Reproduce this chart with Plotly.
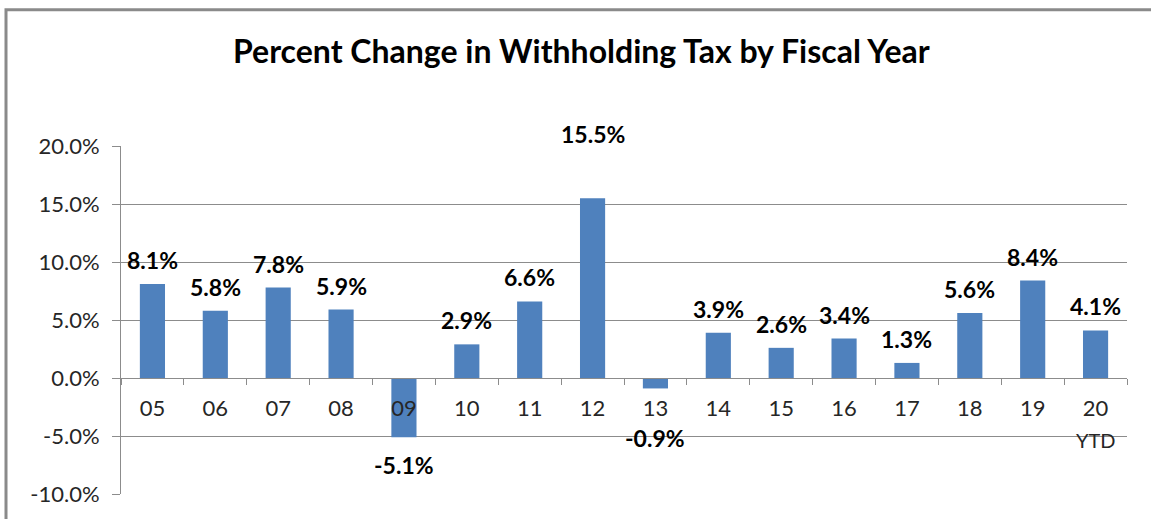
import plotly.graph_objects as go

# ---- data ----
categories = ["05", "06", "07", "08", "09", "10", "11", "12", "13", "14", "15", "16", "17", "18", "19", "20"]
pct_change = [8.1, 5.8, 7.8, 5.9, -5.1, 2.9, 6.6, 15.5, -0.9, 3.9, 2.6, 3.4, 1.3, 5.6, 8.4, 4.1]
y_ticks = [-10, -5, 0, 5, 10, 15, 20]
y_tick_labels = ["-10.0%", "-5.0%", "0.0%", "5.0%", "10.0%", "15.0%", "20.0%"]
title_text = "Percent Change in Withholding Tax by Fiscal Year"
ytd_note = "YTD"

# ---- style ----
FONT = "Lato, 'Open Sans', sans-serif"
BAR_COLOR = "#4F81BD"
GRID = "#8c8c8c"
# label pixel offsets from bar end (some labels were moved by hand in the original)
label_shift_override = {"12": 48, "13": -34, "09": -12}
pos_shift = 8

fig = go.Figure()
fig.add_trace(go.Bar(
    x=categories, y=pct_change,
    marker=dict(color=BAR_COLOR, line=dict(width=0)),
    hoverinfo="skip",
))

annotations = []
for i, (c, v) in enumerate(zip(categories, pct_change)):
    s = label_shift_override.get(c, pos_shift)
    annotations.append(dict(x=i, y=v, xref="x", yref="y", text=f"<b>{v:.1f}%</b>",
                            showarrow=False, yanchor="bottom" if v >= 0 else "top", yshift=s,
                            font=dict(family=FONT, size=23, color="#000000")))

annotations.append(dict(x=len(categories) - 1, y=0, xref="x", yref="y", text=ytd_note,
                        showarrow=False, yanchor="middle", yshift=-62,
                        font=dict(family=FONT, size=20, color="#262626")))
annotations.append(dict(x=0.5, y=1, xref="paper", yref="paper", text=f"<b>{title_text}</b>",
                        showarrow=False, yanchor="middle", yshift=96, xshift=-43,
                        font=dict(family=FONT, size=32, color="#000000")))

fig.update_layout(
    width=1151, height=519,
    margin=dict(l=121, r=24, t=146, b=23),
    paper_bgcolor="white", plot_bgcolor="white",
    showlegend=False,
    bargap=0.6,
    font=dict(family=FONT, size=22, color="#262626"),
    annotations=annotations,
    xaxis=dict(
        type="category",
        range=[-0.5, len(categories) - 0.5],
        anchor="free", position=1/3,
        showline=True, linecolor=GRID, linewidth=1,
        ticks="outside", ticklen=6, tickcolor=GRID, tickson="boundaries",
        showgrid=False, zeroline=False,
        tickfont=dict(family=FONT, size=22, color="#262626"),
        ticklabelstandoff=11,
        fixedrange=True,
    ),
    yaxis=dict(
        range=[-10, 20],
        tickvals=y_ticks, ticktext=y_tick_labels,
        showline=True, linecolor=GRID, linewidth=1,
        ticks="outside", ticklen=8, tickcolor=GRID,
        showgrid=True, gridcolor=GRID, gridwidth=1,
        zeroline=False,
        tickfont=dict(family=FONT, size=22, color="#262626"),
        ticklabelstandoff=8,
        fixedrange=True,
    ),
    shapes=[dict(type="rect", xref="paper", yref="paper",
                 x0=(6 - 121) / 1006, x1=1.1, y0=-0.2, y1=1 + (146 - 9) / 350,
                 line=dict(color="#8a8a8a", width=3), layer="below")],
)

fig.write_html("out.html", config={"displayModeBar": False},
               post_script="document.body.style.margin='0px';")
